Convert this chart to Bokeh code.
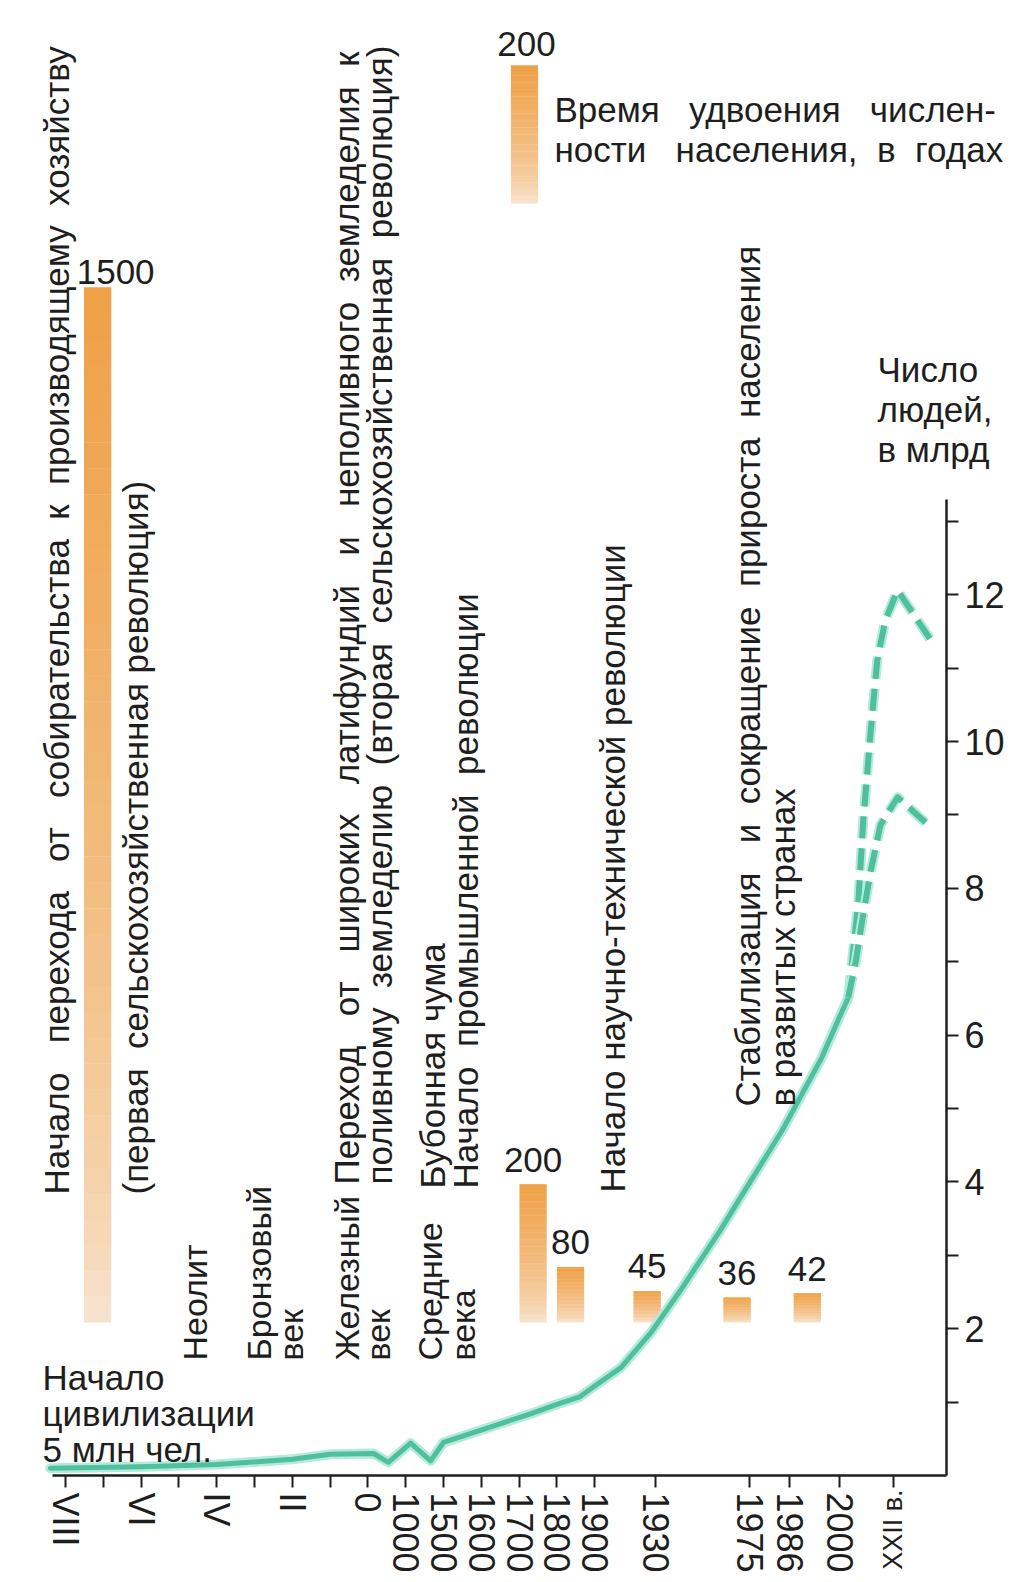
import math
import numpy as np
from bokeh.plotting import figure
from bokeh.models import Range1d, LinearAxis, FixedTicker
from bokeh.core.properties import value
from bokeh.embed import file_html
from bokeh.resources import INLINE

# ---------------- data ----------------
tick_years = [-8000, -7000, -6000, -5000, -4000, -3000, -2000, -1000, 0,
              1000, 1500, 1600, 1700, 1800, 1900, 1930, 1975, 1986, 2000, 2100]
tick_labels = ["VIII", "", "VI", "", "IV", "", "II", "", "0",
               "1000", "1500", "1600", "1700", "1800", "1900", "1930",
               "1975", "1986", "2000", "XXII в."]
# place of every tick on the (non-linear) time axis, in tick steps
tick_pos = [0, 1, 2, 3, 4, 5, 6, 7, 8, 9, 10, 11, 12, 13, 14,
            15.6, 18.1, 19.15, 20.48, 21.9]

hist_years = [-8400, -6000, -4000, -2000, -1000, 150, 540, 1065, 1330, 1500,
              1730, 1800, 1860, 1900, 1913, 1928, 1942, 1961, 1975, 1984, 1995, 2000, 2016]
hist_pop = [0.10, 0.12, 0.15, 0.22, 0.29, 0.30, 0.18, 0.44, 0.20, 0.45,
            0.84, 0.97, 1.07, 1.22, 1.47, 1.95, 2.52, 3.34, 3.99, 4.70, 5.69, 6.25, 6.51]

high_years = [2016, 2035, 2044, 2058, 2070, 2085, 2108, 2170]
high_pop = [6.51, 7.83, 8.92, 10.15, 11.10, 11.65, 12.06, 11.38]
low_years = [2016, 2030, 2042, 2058, 2076, 2108, 2170]
low_pop = [6.51, 7.00, 7.56, 8.24, 8.86, 9.24, 8.83]

dbl_years = [-7150, 1737, 1836, 1926, 1969, 1991]
dbl_values = [1500, 200, 80, 45, 36, 42]
legend_dbl_value = 200

pop_ticks = list(range(1, 14))
pop_labels = {t: (str(t) if t % 2 == 0 else "") for t in pop_ticks}

# ---------------- scale of the time axis ----------------
scale_years = [-9000] + tick_years + [2200]
scale_pos = [-1.0] + tick_pos + [23.32]


def tpos(years):
    return np.interp(np.asarray(years, dtype=float), scale_years, scale_pos)


# ---------------- layout (canvas pixels) ----------------
STEP_PX = 37.8        # px per tick step
POS0_X = 65.0         # x of first tick
AXIS_Y = 1475.0       # y of the time axis
AXIS_X = 946.0        # x of the population axis
BN_PX = 73.4          # px per billion
DBL_PX = 0.69         # px per year of doubling time
DBL_BASE_Y = 1322.0   # y of the bottom of the doubling bars
C_L, C_T, C_R, C_B = 0.0, 0.0, 1013.0, 1580.0   # canvas edges
BASE_FIX = 11         # horizontal texts: baselines drawn this much lower


def PX(x):
    return (x - POS0_X) / STEP_PX


def PY(y):
    return (AXIS_Y - y) / BN_PX


def PD(y):
    return (DBL_BASE_Y - y) / DBL_PX


INK = "#1e1e1e"
FONT = "Liberation Sans"
FSN = 35
FS = "%dpx" % FSN
AXFS = "36px"
GREEN = "#4fbf9c"
HALO = "#b4eadb"

# approximate advance widths (1/1000 em) used to spread words of justified lines
W = dict(zip("абвгдеёжзийклмнопрстуфхцчшщъыьэюя",
             [556, 573, 531, 365, 583, 556, 556, 669, 458, 559, 559, 438, 583, 688, 552, 556,
              542, 556, 500, 458, 500, 823, 500, 573, 521, 802, 823, 625, 719, 521, 510, 750, 542]))
W.update({"Н": 722, "П": 722, "Б": 667, "Ж": 917, "С": 722, "Ч": 667, "В": 667,
          " ": 278, "(": 333, ")": 333, "-": 333, ",": 278, ".": 278})


def justify(s, target):
    words = s.split(" ")
    n = len(words) - 1
    if n < 1:
        return s
    letters = sum(W.get(c, 556) for w in words for c in w) / 1000 * FSN
    total = int(round((target - letters) / (0.278 * FSN)))
    total = max(n, total)
    base, extra = divmod(total, n)
    out = words[0]
    for i, w in enumerate(words[1:]):
        k = base + (1 if i < extra else 0)
        out += " " + "\u00a0" * (k - 1) + w
    return out


p = figure(frame_width=int(C_R - C_L), frame_height=int(C_B - C_T),
           x_range=Range1d(PX(C_L), PX(C_R)),
           y_range=Range1d(PY(C_B), PY(C_T)),
           output_backend="svg", toolbar_location=None,
           x_axis_location=None, y_axis_location=None,
           min_border=0, min_border_left=0, min_border_top=0,
           min_border_right=0, min_border_bottom=0,
           background_fill_color="white", border_fill_color="white")
p.outline_line_color = None
p.grid.visible = False
p.extra_y_ranges = {"dbl": Range1d(PD(C_B), PD(C_T))}

# ---- axes (drawn at fixed places inside the canvas) ----
xaxis = LinearAxis(ticker=FixedTicker(ticks=tick_pos),
                   major_label_overrides={float(t): (l if l != "XXII в." else "")
                                          for t, l in zip(tick_pos, tick_labels)},
                   bounds=(PX(52), PX(AXIS_X)), fixed_location=0)
xaxis.major_label_orientation = "vertical"
yaxis = LinearAxis(ticker=FixedTicker(ticks=pop_ticks),
                   major_label_overrides=pop_labels, bounds=(0, 13.3),
                   fixed_location=PX(AXIS_X))
for ax in (xaxis, yaxis):
    ax.axis_line_color = INK
    ax.axis_line_width = 2.5
    ax.major_tick_line_color = INK
    ax.major_tick_line_width = 2
    ax.major_tick_in = 0
    ax.major_tick_out = 12
    ax.minor_tick_line_color = None
    ax.major_label_text_font = FONT
    ax.major_label_text_font_size = AXFS
    ax.major_label_text_color = INK
    ax.major_label_standoff = 5
yaxis.major_label_standoff = 6
p.add_layout(xaxis, "below")
p.add_layout(yaxis, "right")

# the last time label is longer than the room below the axis: a smaller size
p.text(x=[float(tpos(2100))], y=[PY(AXIS_Y + 14)], text=[tick_labels[-1]],
       angle=math.pi / 2, text_align="right", text_baseline="middle",
       text_font=value(FONT), text_font_size="27px", text_color=INK)

# ---- doubling-time bars (gradient by stacked slices) ----
ORANGE = np.array([239, 160, 70])
PALE = np.array([248, 232, 216])


def grad_bar(xc, bottom, height, width=0.72, n=40):
    lefts, rights, bots, tops, cols = [], [], [], [], []
    for k in range(n):
        t = (k + 0.5) / n
        c = PALE + (ORANGE - PALE) * (t ** 0.6)
        lefts.append(xc - width / 2)
        rights.append(xc + width / 2)
        bots.append(bottom + height * k / n)
        tops.append(bottom + height * (k + 1) / n + 0.5)
        cols.append("#%02x%02x%02x" % tuple(int(round(v)) for v in c))
    p.quad(left=lefts, right=rights, bottom=bots, top=tops, fill_color=cols,
           line_color=None, y_range_name="dbl")


bx = tpos(dbl_years)
for xc, v in zip(bx, dbl_values):
    grad_bar(float(xc), 0, v)
p.text(x=list(bx), y=dbl_values, text=[str(v) for v in dbl_values],
       x_offset=[18, 0, 0, 0, 0, 0], y_offset=[-16, -25, -25, -25, -25, -25],
       text_align="center", text_baseline="alphabetic", y_range_name="dbl",
       text_font=value(FONT), text_font_size=FS, text_color=INK)

# legend bar
leg_bottom = PD(203)
grad_bar(PX(524), leg_bottom, legend_dbl_value)
p.text(x=[PX(526)], y=[leg_bottom + legend_dbl_value], text=[str(legend_dbl_value)],
       y_offset=-22, text_align="center", text_baseline="alphabetic",
       y_range_name="dbl",
       text_font=value(FONT), text_font_size=FS, text_color=INK)

# ---- population curve ----
hx = tpos(hist_years)
p.line(hx, hist_pop, line_color=HALO, line_width=10, line_join="round", line_cap="round")
p.line(hx, hist_pop, line_color=GREEN, line_width=5, line_join="round", line_cap="round")
for yrs, pops in ((high_years, high_pop), (low_years, low_pop)):
    xs = tpos(yrs)
    p.line(xs, pops, line_color=HALO, line_width=10, line_dash="22 10", line_join="round")
    p.line(xs, pops, line_color=GREEN, line_width=6, line_dash="22 10", line_join="round")

# ---- annotations ----
# long vertical lines: (text, centre x, bottom y, top y or None)
vtexts = [
    ("Начало перехода от собирательства к производящему хозяйству", 56, 1194, 40),
    ("(первая сельскохозяйственная революция)", 135, 1194, 480),
    ("Переход от широких латифундий и неполивного земледелия к", 346, 1184, 40),
    ("поливному земледелию (вторая сельскохозяйственная революция)", 379, 1184, 40),
    ("Бубонная чума", 432, 1188, 1045),
    ("Начало промышленной революции", 465, 1188, 592),
    ("Начало научно-технической революции", 612, 1192, 551),
    ("Стабилизация и сокращение прироста населения", 747, 1106, 248),
    ("в развитых странах", 782, 1106, 798),
]
p.text(x=[PX(v[1]) for v in vtexts], y=[PY(v[2]) for v in vtexts],
       text=[justify(v[0], v[2] - v[3]) if v[3] else v[0] for v in vtexts],
       angle=math.pi / 2, text_align="left", text_baseline="middle",
       text_font=value(FONT), text_font_size=FS, text_color=INK)

# period names near the time axis
periods = [
    ("Неолит", 194), ("Бронзовый", 258), ("век", 290), ("Железный", 346),
    ("век", 377), ("Средние", 429), ("века", 462),
]
p.text(x=[PX(v[1]) for v in periods], y=[PY(1360)] * len(periods),
       text=[v[0] for v in periods], angle=math.pi / 2,
       text_align="left", text_baseline="middle",
       text_font=value(FONT), text_font_size="34px", text_color=INK)

htexts = [
    ("Начало", 42, 1388, None), ("цивилизации", 42, 1424, None), ("5 млн чел.", 42, 1460, None),
    ("Число", 877, 380, None), ("людей,", 877, 420, None), ("в млрд", 877, 460, None),
    ("Время удвоения числен-", 554, 120, 1001), ("ности населения, в годах", 554, 160, 1001),
]
p.text(x=[PX(v[1]) for v in htexts], y=[PY(v[2] - BASE_FIX) for v in htexts],
       text=[justify(v[0], v[3] - v[1]) if v[3] else v[0] for v in htexts],
       text_align="left", text_baseline="alphabetic",
       text_font=value(FONT), text_font_size=FS, text_color=INK)

open("out.html", "w").write(file_html(p, INLINE))
